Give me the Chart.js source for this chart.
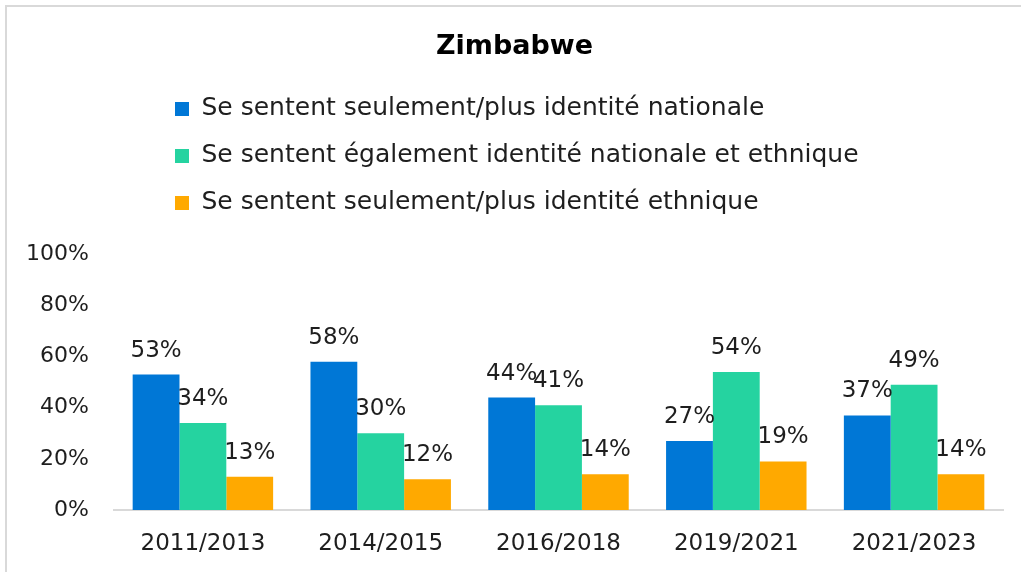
<!DOCTYPE html>
<html>
<head>
<meta charset="utf-8">
<script src="https://cdn.jsdelivr.net/npm/chart.js@4/dist/chart.umd.min.js"></script>
<style>
  body { margin: 0; background: #fff; overflow: hidden; }
  #frame { position: absolute; left: 5px; top: 5px; width: 1040px; height: 600px; border: 2px solid #d9d9d9; }
  #graphCanvas { position: absolute; left: 0; top: 0; }
</style>
</head>
<body>
<div id="frame"></div>
<canvas id="graphCanvas" width="1021" height="572"></canvas>
<script>
// Data
var periods = ['2011/2013', '2014/2015', '2016/2018', '2019/2021', '2021/2023'];
var seriesNames = [
    'Se sentent seulement/plus identité nationale',
    'Se sentent également identité nationale et ethnique',
    'Se sentent seulement/plus identité ethnique'
];
var nationalOnly = [53, 58, 44, 27, 37];
var equalBoth = [34, 30, 41, 54, 49];
var ethnicOnly = [13, 12, 14, 19, 14];
var yTicks = [0, 20, 40, 60, 80, 100];

var font = "'Century Gothic', 'DejaVu Sans', sans-serif";
var textColor = '#1e1e1e';
var legendLift = 30;

// Value labels above each bar
const barLabels = {
    id: 'barLabels',
    afterDatasetsDraw(chart) {
        const ctx = chart.ctx;
        ctx.save();
        ctx.font = '23px ' + font;
        ctx.fillStyle = textColor;
        ctx.textAlign = 'center';
        ctx.textBaseline = 'alphabetic';
        chart.data.datasets.forEach(function (ds, i) {
            chart.getDatasetMeta(i).data.forEach(function (bar, j) {
                ctx.fillText(ds.data[j] + '%', bar.x, bar.y - 18);
            });
        });
        ctx.restore();
    }
};

// Legend rows start left-aligned at the same x, and sit a bit higher
const legendShift = {
    id: 'legendShift',
    afterLayout(chart) {
        chart.legend.left = 153;
        chart.legend.top -= legendLift - 1;
    }
};

const ctx = document.getElementById('graphCanvas').getContext('2d');
const myChart = new Chart(ctx, {
    type: 'bar',
    data: {
        labels: periods,
        datasets: [{
            label: seriesNames[0],
            data: nationalOnly,
            backgroundColor: '#0077d6'
        }, {
            label: seriesNames[1],
            data: equalBoth,
            backgroundColor: '#25d3a0'
        }, {
            label: seriesNames[2],
            data: ethnicOnly,
            backgroundColor: '#ffa900'
        }]
    },
    options: {
        responsive: false,
        animation: false,
        categoryPercentage: 0.79,
        barPercentage: 1,
        layout: { padding: { left: 26, right: 18, top: 0, bottom: 0 } },
        plugins: {
            title: {
                display: true,
                text: 'Zimbabwe',
                color: '#000',
                font: { family: font, size: 27, weight: 'bold' },
                padding: { top: 31, bottom: 10 + legendLift }
            },
            legend: {
                position: 'top',
                align: 'start',
                labels: {
                    color: textColor,
                    font: { family: font, size: 25 },
                    boxWidth: 14,
                    boxHeight: 14,
                    padding: 22
                }
            },
            tooltip: { enabled: false }
        },
        scales: {
            x: {
                grid: { display: false, drawTicks: false },
                border: { color: '#d9d9d9', width: 2 },
                ticks: { color: textColor, font: { family: font, size: 23 }, padding: 20 },
                afterFit: function (axis) { axis.height = 62; }
            },
            y: {
                min: 0,
                max: 100,
                afterBuildTicks: function (axis) {
                    axis.ticks = yTicks.map(function (v) { return { value: v }; });
                },
                grid: { display: false, drawTicks: false },
                border: { display: false },
                ticks: {
                    color: textColor,
                    font: { family: font, size: 22 },
                    padding: 25,
                    callback: function (v) { return v + '%'; }
                },
                afterFit: function (axis) { axis.width = 88; }
            }
        }
    },
    plugins: [barLabels, legendShift]
});
</script>
</body>
</html>
